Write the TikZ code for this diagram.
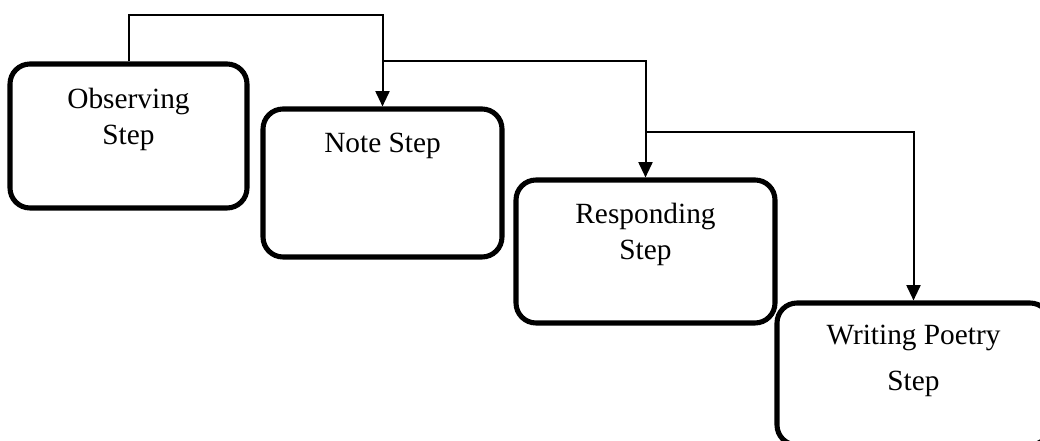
\documentclass[tikz,border=0pt]{standalone}
\usepackage{fontspec}
\setmainfont{Liberation Serif}
\usetikzlibrary{arrows.meta}
\begin{document}
\begin{tikzpicture}[x=0.75pt,y=-0.75pt,
  box/.style={draw=black, line width=3.8pt, rounded corners=15pt, fill=none, inner sep=0pt},
  lbl/.style={align=center, font=\fontsize{22}{27}\selectfont, inner sep=0pt},
  conn/.style={draw=black, line width=1.5pt},
  arr/.style={conn, -{Triangle[width=10.5pt,length=11.5pt]}}
]
\useasboundingbox (0,0) rectangle (1040,441);
% boxes
\node[box, minimum width=237*0.75pt, minimum height=144*0.75pt] (b1) at (128.5,136) {};
\node[box, minimum width=239*0.75pt, minimum height=148*0.75pt] (b2) at (382.5,183) {};
\node[box, minimum width=259*0.75pt, minimum height=143*0.75pt] (b3) at (645.5,251.5) {};
\node[box, minimum width=273*0.75pt, minimum height=142*0.75pt] (b4) at (913.5,374) {};
% texts
\node[lbl] (t1) at (128.5,119) {Observing\\Step};
\node[lbl] (t2) at (382.5,146) {Note Step};
\node[lbl] (t3) at (645.5,234) {Responding\\Step};
\node[lbl, font=\fontsize{22}{34.5}\selectfont] (t4) at (913.5,361) {Writing Poetry\\Step};
% routing levels
\coordinate (h1) at (0,15);
\coordinate (h2) at (0,61);
\coordinate (h3) at (0,132);
\coordinate (j2) at (b2.north |- h2);
\coordinate (j3) at (b3.north |- h3);
% connectors
\draw[arr] (b1.north) -- (b1.north |- h1) -- (b2.north |- h1) -- (b2.north);
\draw[arr] (j2) -- (b3.north |- h2) -- (b3.north);
\draw[arr] (j3) -- (b4.north |- h3) -- (b4.north);
\end{tikzpicture}
\end{document}
